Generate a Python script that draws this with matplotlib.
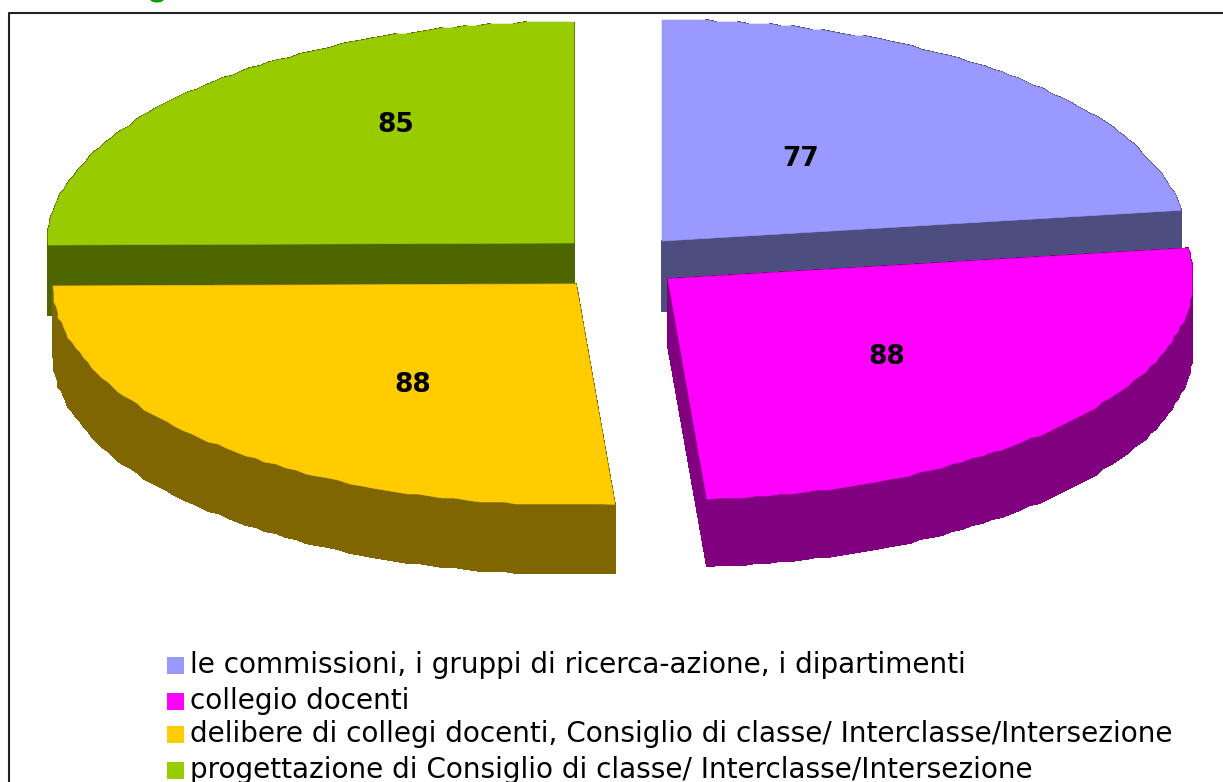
import numpy as np
from matplotlib import pyplot as plt
from matplotlib.collections import PolyCollection
from matplotlib.patches import Ellipse, Polygon, Rectangle

# Data
labels = ['le commissioni, i gruppi di ricerca-azione, i dipartimenti',
          'collegio docenti',
          'delibere di collegi docenti, Consiglio di classe/ Interclasse/Intersezione',
          'progettazione di Consiglio di classe/ Interclasse/Intersezione']
values = [77, 88, 88, 85]
colors = ['#9999FF', '#FF00FF', '#FFCC00', '#99CC00']
side_colors = ['#4D4D80', '#800080', '#806600', '#4D6600']

# Layout, all in image pixels
apex_x = [662, 668, 576, 574]
apex_y = [241, 279, 284, 243]
radius_x = [524, 525, 523, 526]
radius_y = 221
depth = [70, 67, 69, 70]
value_x = [801, 887, 413, 396]
value_y = [159, 357, 385, 125]
legend_y = [665, 701, 734, 770]
draw_order = [0, 3, 1, 2]

fig = plt.figure(figsize=(12.23, 7.82), dpi=100)
ax = fig.add_axes([0, 0, 1, 1])
ax.set_xlim(0, 1223)
ax.set_ylim(782, 0)
ax.axis('off')

# Chart frame, and the sliver of the cropped title above it
ax.plot([8.5, 8.5, 1223], [782, 12.5, 12.5], color='#222222', lw=1.5)
ax.add_patch(Ellipse((157, -1), 14, 7, facecolor='#00A000', edgecolor='none'))

# Slices go clockwise from 12 o'clock
edges = np.cumsum([0] + values) / sum(values) * 2 * np.pi
for i in draw_order:
    theta = np.linspace(edges[i], edges[i + 1], 70)
    x = apex_x[i] + radius_x[i] * np.sin(theta)
    y = apex_y[i] - radius_y * np.cos(theta)
    # the original rim is a bit lumpy, snap it to a small grid (but not the end points)
    x[1:-1] = np.round(x[1:-1] / 2) * 2
    y[1:-1] = np.round(y[1:-1] / 2) * 2
    outline = np.column_stack([np.r_[apex_x[i], x], np.r_[apex_y[i], y]])
    closed = np.vstack([outline, outline[:1]])
    quads = [[closed[j], closed[j + 1], closed[j + 1] + [0, depth[i]], closed[j] + [0, depth[i]]]
             for j in range(len(outline))]
    ax.add_collection(PolyCollection(quads, facecolors=side_colors[i], edgecolors=side_colors[i],
                                     linewidths=0.6, antialiaseds=False))
    ax.add_patch(Polygon(outline, closed=True, facecolor=colors[i],
                         edgecolor=colors[i], linewidth=0.4))
    ax.text(value_x[i], value_y[i], str(values[i]), fontsize=19, fontweight='bold',
            ha='center', va='center', color='black')

# Legend
for i in range(len(labels)):
    ax.add_patch(Rectangle((167, legend_y[i] - 8.5), 17, 17, facecolor=colors[i], edgecolor='none'))
    ax.text(190, legend_y[i], labels[i], fontsize=20.05, ha='left', va='center', color='black')

plt.savefig('out.png', dpi=100)
